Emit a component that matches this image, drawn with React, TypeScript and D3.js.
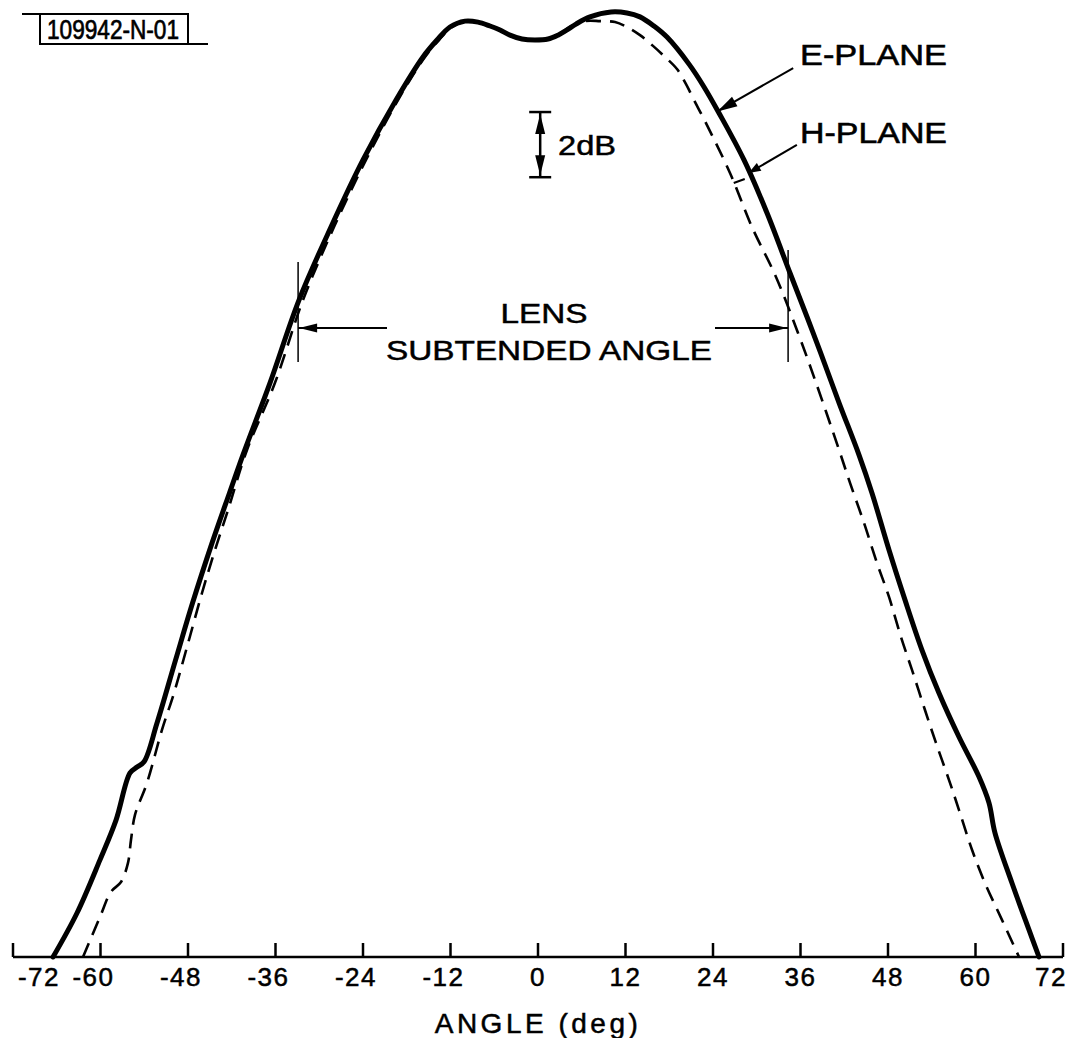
import React from 'react';
import * as d3 from 'd3';

// ---- data (angle in degrees, relative power in dB) ----
const tickValues = [-72, -60, -48, -36, -24, -12, 0, 12, 24, 36, 48, 60, 72];
const tickLabels = ['-72', '-60', '-48', '-36', '-24', '-12', '0', '12', '24', '36', '48', '60', '72'];

// E-plane (solid)
const eAngle = [-66.51, -63.22, -60.07, -57.87, -55.95, -54.99, -54.03, -52.25, -49.71, -47.38, -44.71, -42.31, -40.46, -36.75, -32.78, -28.39, -24.0, -19.47, -15.77, -13.85, -12.07, -10.01, -8.23, -6.58, -5.21, -3.84, -2.19, -0.41, 1.37, 2.74, 3.98, 5.21, 7.13, 10.01, 12.2, 13.99, 15.9, 17.69, 20.71, 22.77, 24.82, 28.25, 31.41, 34.56, 36.9, 38.7, 41.3, 44.02, 45.8, 48.14, 50.33, 52.66, 54.99, 57.74, 60.48, 61.85, 62.67, 65.0, 67.34, 68.71];
const eDb = [-29.0, -27.65, -26.02, -24.8, -23.35, -23.17, -23.01, -21.82, -19.89, -18.14, -16.3, -14.76, -13.59, -11.38, -8.84, -6.6, -4.54, -2.7, -1.38, -0.86, -0.46, -0.28, -0.31, -0.43, -0.55, -0.71, -0.83, -0.86, -0.83, -0.71, -0.55, -0.37, -0.15, 0, -0.03, -0.15, -0.43, -0.77, -1.6, -2.3, -3.1, -4.54, -6.17, -8.01, -9.36, -10.42, -12.0, -13.59, -14.76, -16.51, -18.04, -19.58, -20.9, -22.25, -23.47, -24.27, -25.19, -26.73, -28.17, -29.0];

// H-plane (dashed)
const hAngle = [-62.4, -60.07, -58.56, -57.19, -56.23, -55.82, -55.27, -53.63, -51.57, -49.92, -48.14, -46.08, -44.3, -42.51, -39.91, -36.07, -32.23, -27.98, -23.59, -19.2, -15.5, -13.58, -11.79, -10.01, -8.23, -6.58, -5.21, -3.84, -2.19, -0.41, 1.37, 2.74, 4.39, 6.45, 8.5, 10.56, 12.2, 13.99, 15.77, 17.42, 19.06, 20.3, 21.39, 23.04, 26.33, 29.35, 32.64, 35.66, 38.13, 41.29, 42.79, 44.71, 46.49, 48.14, 49.78, 51.29, 53.07, 54.58, 56.37, 57.74, 59.52, 61.3, 63.63, 65.97];
const hDb = [-29.0, -27.77, -27.0, -26.7, -26.11, -25.41, -24.64, -23.66, -22.03, -20.9, -19.49, -17.83, -16.51, -15.28, -13.44, -11.38, -8.84, -6.6, -4.54, -2.7, -1.38, -0.86, -0.46, -0.28, -0.31, -0.43, -0.55, -0.71, -0.83, -0.86, -0.83, -0.71, -0.46, -0.28, -0.28, -0.31, -0.46, -0.71, -1.04, -1.38, -1.75, -2.21, -2.7, -3.41, -4.94, -6.6, -8.13, -9.85, -11.38, -13.44, -14.45, -15.68, -16.91, -17.95, -19.18, -20.19, -21.42, -22.43, -23.57, -24.49, -25.71, -26.73, -27.86, -29.0];

const lensAngles = [-32.9, 34.3];
const scaleBarAngle = 0.3;
const scaleBarDb = [-3.07, -5.07];

const W = 1072;
const H = 1038;
const FONT = "'Liberation Sans', 'DejaVu Sans', Arial, sans-serif";

const x = d3.scaleLinear().domain([-72, 72]).range([13, 1063]);
const y = d3.scaleLinear().domain([-29, 0]).range([957, 12]);

const line = d3
  .line<[number, number]>()
  .x((d) => x(d[0]))
  .y((d) => y(d[1]))
  .curve(d3.curveCatmullRom.alpha(0.5));

const ePts: [number, number][] = eAngle.map((a, i) => [a, eDb[i]]);
const hPts: [number, number][] = hAngle.map((a, i) => [a, hDb[i]]);

function arrowHead(tx: number, ty: number, fx: number, fy: number, len = 18, half = 5) {
  const ang = Math.atan2(ty - fy, tx - fx);
  const bx = tx - len * Math.cos(ang);
  const by = ty - len * Math.sin(ang);
  const px = -Math.sin(ang) * half;
  const py = Math.cos(ang) * half;
  return `M${tx},${ty}L${bx + px},${by + py}L${bx - px},${by - py}Z`;
}

export default function App() {
  const base = y(-29);
  const lensTop = [y(-7.67), y(-7.3)];
  const lensBottom = y(-10.74);
  const lensArrowY = y(-9.7);
  const lx = lensAngles.map((a) => x(a));

  const sbx = x(scaleBarAngle);
  const sbTop = y(scaleBarDb[0]);
  const sbBot = y(scaleBarDb[1]);

  const eFrom = [x(35.0), y(-1.72)];
  const eTo = [x(24.6), y(-3.05)];
  const hFrom = [x(35.5), y(-4.08)];
  const hTo = [x(28.9), y(-4.94)];

  return (
    <svg
      width={W}
      height={H}
      style={{ position: 'absolute', left: 0, top: 0, background: '#fff' }}
      fontFamily={FONT}
    >
      <rect x={0} y={0} width={W} height={H} fill="#fff" />

      {/* ID label */}
      <g stroke="#000" strokeWidth={2} fill="none">
        <line x1={22} y1={14} x2={40} y2={14} />
        <rect x={40} y={14} width={148} height={30} />
        <line x1={188} y1={44} x2={208} y2={44} />
      </g>
      <text x={47} y={39} fontSize={28} textLength={132} lengthAdjust="spacingAndGlyphs" fill="#000" stroke="#000" strokeWidth={0.7}>
        109942-N-01
      </text>

      {/* curves */}
      <path d={line(hPts) || ''} fill="none" stroke="#000" strokeWidth={2.6} strokeDasharray="15 9" />
      <path d={line(ePts) || ''} fill="none" stroke="#000" strokeWidth={5} strokeLinejoin="round" strokeLinecap="round" />

      {/* axis */}
      <g stroke="#000" strokeWidth={2.5}>
        <line x1={x(-72)} y1={base} x2={x(72)} y2={base} />
        {tickValues.map((v) => (
          <line key={v} x1={x(v)} y1={base} x2={x(v)} y2={base - 14} />
        ))}
      </g>
      {tickValues.map((v, i) => {
        let cx = x(v) - (v < 0 ? 7 : 0);
        cx = Math.max(39, Math.min(1051, cx));
        return (
          <text key={v} x={cx} y={986} fontSize={26} textAnchor="middle" letterSpacing={1.5} fill="#000" stroke="#000" strokeWidth={0.5}>
            {tickLabels[i]}
          </text>
        );
      })}
      <text x={538} y={1033} fontSize={28} textAnchor="middle" letterSpacing={3.5} fill="#000" stroke="#000" strokeWidth={0.5}>
        ANGLE (deg)
      </text>

      {/* 2 dB scale bar */}
      <g stroke="#000" strokeWidth={2.5}>
        <line x1={sbx - 11} y1={sbTop} x2={sbx + 11} y2={sbTop} />
        <line x1={sbx - 11} y1={sbBot} x2={sbx + 11} y2={sbBot} />
        <line x1={sbx} y1={sbTop} x2={sbx} y2={sbBot} />
      </g>
      <path d={arrowHead(sbx, sbTop + 2, sbx, sbBot, 20, 5)} fill="#000" />
      <path d={arrowHead(sbx, sbBot - 2, sbx, sbTop, 20, 5)} fill="#000" />
      <text x={558} y={155} fontSize={28} textLength={58} lengthAdjust="spacingAndGlyphs" fill="#000" stroke="#000" strokeWidth={0.5}>2dB</text>

      {/* E-plane / H-plane labels */}
      <g stroke="#000" strokeWidth={2}>
        <line x1={eFrom[0]} y1={eFrom[1]} x2={eTo[0]} y2={eTo[1]} />
        <line x1={hFrom[0]} y1={hFrom[1]} x2={hTo[0]} y2={hTo[1]} />
        <line x1={hTo[0] - 15} y1={hTo[1] + 10} x2={hTo[0] - 4} y2={hTo[1] + 6} />
      </g>
      <path d={arrowHead(eTo[0], eTo[1], eFrom[0], eFrom[1], 20, 5.5)} fill="#000" />
      <path d={arrowHead(hTo[0], hTo[1], hFrom[0], hFrom[1], 12, 4.5)} fill="#000" />
      <text x={800} y={65} fontSize={30} textLength={147} lengthAdjust="spacingAndGlyphs" fill="#000" stroke="#000" strokeWidth={0.6}>E-PLANE</text>
      <text x={800} y={143} fontSize={30} textLength={147} lengthAdjust="spacingAndGlyphs" fill="#000" stroke="#000" strokeWidth={0.6}>H-PLANE</text>

      {/* Lens subtended angle */}
      <g stroke="#000" strokeWidth={1.5}>
        <line x1={lx[0]} y1={lensTop[0]} x2={lx[0]} y2={lensBottom} />
        <line x1={lx[1]} y1={lensTop[1]} x2={lx[1]} y2={lensBottom} />
      </g>
      <g stroke="#000" strokeWidth={2}>
        <line x1={lx[0]} y1={lensArrowY} x2={387} y2={lensArrowY} />
        <line x1={715} y1={lensArrowY} x2={lx[1]} y2={lensArrowY} />
      </g>
      <path d={arrowHead(lx[0] + 1, lensArrowY, 387, lensArrowY, 18, 4.5)} fill="#000" />
      <path d={arrowHead(lx[1] - 1, lensArrowY, 715, lensArrowY, 18, 4.5)} fill="#000" />
      <text x={544} y={323} fontSize={28} textAnchor="middle" textLength={87} lengthAdjust="spacingAndGlyphs" fill="#000" stroke="#000" strokeWidth={0.5}>LENS</text>
      <text x={549} y={360} fontSize={28} textAnchor="middle" textLength={326} lengthAdjust="spacingAndGlyphs" fill="#000" stroke="#000" strokeWidth={0.5}>SUBTENDED ANGLE</text>
    </svg>
  );
}
